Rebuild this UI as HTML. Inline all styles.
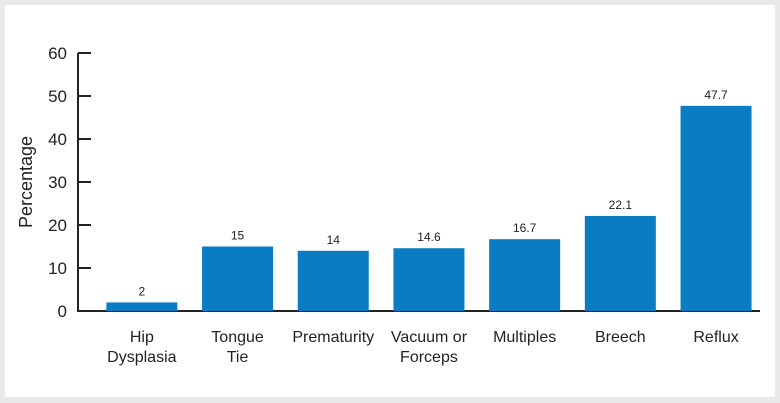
<!DOCTYPE html>
<html><head><meta charset="utf-8"><style>
html,body{margin:0;padding:0;background:#e9e9e9;}
#wrap{position:absolute;left:5px;top:5px;width:770px;height:392px;background:#fff;}
svg{position:absolute;left:0;top:0;}
text{font-family:"Liberation Sans",sans-serif;fill:#222;}
</style></head><body>
<div id="wrap"></div>
<svg id="chart" width="780" height="403"></svg>
<script>
const categories=[["Hip","Dysplasia"],["Tongue","Tie"],["Prematurity"],["Vacuum or","Forceps"],["Multiples"],["Breech"],["Reflux"]];
const values=[2,15,14,14.6,16.7,22.1,47.7];
const valueLabels=["2","15","14","14.6","16.7","22.1","47.7"];
const yTicks=[0,10,20,30,40,50,60];
const NS="http://www.w3.org/2000/svg";
const svg=document.getElementById('chart');
const x0=78,y0=311,yTop=53,yMax=60,bandStart=94,band=95.7,barW=71;
function y(v){return y0-(v/yMax)*(y0-yTop);}
function xc(i){return bandStart+band*i+band/2;}
function mk(t,a){const e=document.createElementNS(NS,t);for(const k in a)e.setAttribute(k,a[k]);svg.appendChild(e);return e;}
let e;
e=mk('line',{x1:x0,y1:yTop,x2:x0,y2:y0,stroke:'#222','stroke-width':2});


e=mk('line',{x1:x0-1,y1:y0,x2:760,y2:y0,stroke:'#222','stroke-width':2});


yTicks.forEach(t=>{
  if(t>0){e=mk('line',{x1:x0,y1:y(t),x2:x0+13,y2:y(t),stroke:'#222','stroke-width':2});
  
  }
  e=mk('text',{x:67,y:y(t)+6,'text-anchor':'end','font-size':17});
  e.textContent=t;
  
  
});
e=mk('text',{x:0,y:0,'text-anchor':'middle','font-size':18,transform:'translate(32,182) rotate(-90)'});
e.textContent='Percentage';


values.forEach((v,i)=>{
  const c=xc(i);
  e=mk('rect',{x:c-barW/2,y:y(v),width:barW,height:y0-y(v),fill:'#0a7cc4'});
  
  
  e=mk('text',{x:c,y:y(v)-7,'text-anchor':'middle','font-size':12});
  e.textContent=valueLabels[i];
  
  
  categories[i].forEach((ln,j)=>{
    e=mk('text',{x:c,y:342+j*20,'text-anchor':'middle','font-size':16});
    e.textContent=ln;
    
    
  });
});
</script>
</body></html>
